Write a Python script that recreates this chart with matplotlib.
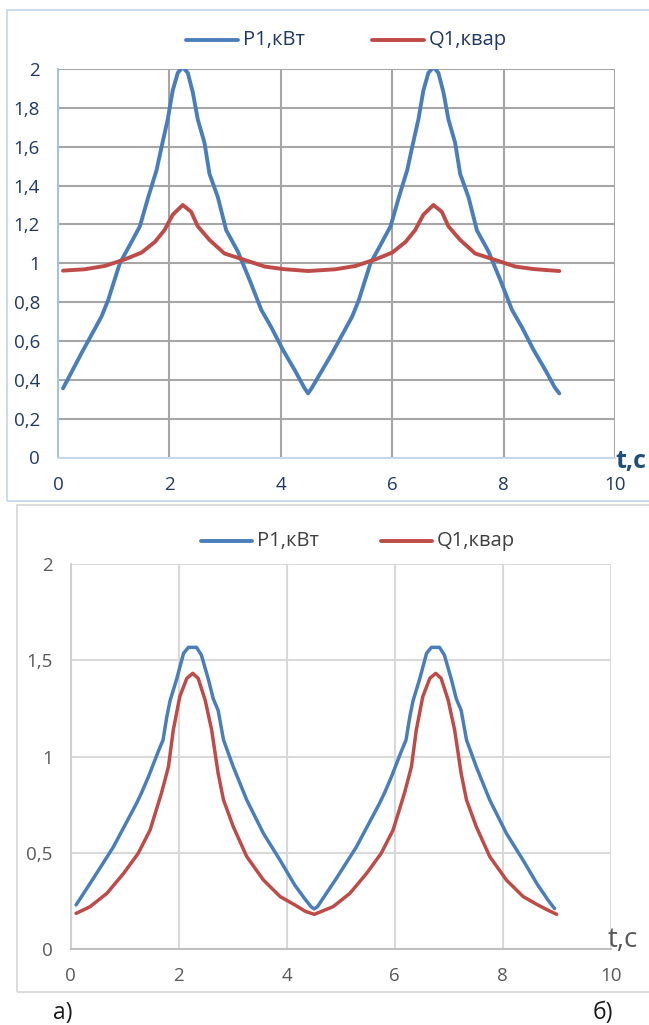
import matplotlib
matplotlib.use("Agg")
import matplotlib.pyplot as plt
from matplotlib.lines import Line2D
from matplotlib.patches import Rectangle

plt.rcParams['font.family'] = ['Open Sans', 'DejaVu Sans']

# ---------------- data: chart a) ----------------
ta_p = [0.09, 0.42, 0.78, 0.90, 1.11, 1.29, 1.47, 1.62, 1.77, 1.86, 1.97, 2.06, 2.15,
        2.24, 2.33, 2.42, 2.51, 2.63, 2.72, 2.87, 3.02, 3.23, 3.44, 3.65, 3.83, 4.04,
        4.25, 4.42, 4.49, 4.56,
        4.92, 5.28, 5.40, 5.61, 5.79, 5.97, 6.12, 6.27, 6.36, 6.47, 6.56, 6.65, 6.74,
        6.83, 6.92, 7.01, 7.13, 7.22, 7.37, 7.52, 7.73, 7.94, 8.15, 8.33, 8.54, 8.75,
        8.92, 9.00]
pa = [0.356, 0.536, 0.725, 0.81, 1.00, 1.094, 1.19, 1.34, 1.48, 1.60, 1.74, 1.89, 1.98,
      2.01, 1.98, 1.88, 1.74, 1.62, 1.46, 1.34, 1.17, 1.06, 0.914, 0.76, 0.67, 0.553,
      0.45, 0.36, 0.33, 0.36,
      0.536, 0.725, 0.81, 1.00, 1.094, 1.19, 1.34, 1.48, 1.60, 1.74, 1.89, 1.98, 2.01,
      1.98, 1.88, 1.74, 1.62, 1.46, 1.34, 1.17, 1.06, 0.914, 0.76, 0.67, 0.553, 0.45,
      0.36, 0.33]

ta_q = [0.09, 0.48, 0.84, 1.20, 1.50, 1.74, 1.91, 2.06, 2.24, 2.39, 2.51, 2.72, 2.99,
        3.35, 3.71, 4.04, 4.49,
        4.98, 5.34, 5.70, 6.00, 6.24, 6.41, 6.56, 6.74, 6.89, 7.01, 7.22, 7.49, 7.85,
        8.21, 8.54, 9.00]
qa = [0.962, 0.969, 0.986, 1.02, 1.055, 1.11, 1.17, 1.25, 1.30, 1.265, 1.19, 1.12, 1.05,
      1.017, 0.983, 0.97, 0.96,
      0.969, 0.986, 1.02, 1.055, 1.11, 1.17, 1.25, 1.30, 1.265, 1.19, 1.12, 1.05, 1.017,
      0.983, 0.97, 0.96]

# ---------------- data: chart б) ----------------
tb_p = [0.10, 0.42, 0.79, 1.22, 1.31, 1.44, 1.62, 1.71, 1.78, 1.84, 1.96, 2.09, 2.18,
        2.33, 2.42, 2.55, 2.64, 2.73, 2.83, 3.01, 3.26, 3.57, 3.88, 4.15, 4.35, 4.45,
        4.51, 4.57,
        4.92, 5.29, 5.72, 5.81, 5.94, 6.12, 6.21, 6.28, 6.34, 6.46, 6.59, 6.68, 6.83,
        6.92, 7.05, 7.14, 7.23, 7.33, 7.51, 7.76, 8.07, 8.38, 8.65, 8.85, 8.96]
pb = [0.229, 0.367, 0.53, 0.757, 0.81, 0.895, 1.025, 1.086, 1.207, 1.29, 1.40, 1.536, 1.567,
      1.567, 1.527, 1.40, 1.30, 1.24, 1.086, 0.947, 0.774, 0.60, 0.46, 0.332, 0.255, 0.22,
      0.208, 0.22,
      0.367, 0.53, 0.757, 0.81, 0.895, 1.025, 1.086, 1.207, 1.29, 1.40, 1.536, 1.567, 1.567,
      1.527, 1.40, 1.30, 1.24, 1.086, 0.947, 0.774, 0.60, 0.46, 0.332, 0.25, 0.21]

tb_q = [0.10, 0.36, 0.67, 0.98, 1.25, 1.47, 1.68, 1.81, 1.90, 2.02, 2.15, 2.26, 2.36,
        2.49, 2.61, 2.73, 2.83, 3.01, 3.26, 3.57, 3.88, 4.15, 4.35, 4.51,
        4.86, 5.17, 5.48, 5.75, 5.97, 6.18, 6.31, 6.40, 6.52, 6.65, 6.76, 6.86, 6.99,
        7.11, 7.23, 7.33, 7.51, 7.76, 8.07, 8.38, 8.65, 8.85, 9.00]
qb = [0.185, 0.22, 0.289, 0.393, 0.497, 0.618, 0.809, 0.947, 1.138, 1.311, 1.406, 1.432, 1.406,
      1.293, 1.138, 0.913, 0.774, 0.636, 0.48, 0.358, 0.272, 0.229, 0.195, 0.18,
      0.22, 0.289, 0.393, 0.497, 0.618, 0.809, 0.947, 1.138, 1.311, 1.406, 1.432, 1.406, 1.293,
      1.138, 0.913, 0.774, 0.636, 0.48, 0.358, 0.272, 0.229, 0.20, 0.18]

x_ticks = [0, 2, 4, 6, 8, 10]
ya_ticks = [0, 0.2, 0.4, 0.6, 0.8, 1, 1.2, 1.4, 1.6, 1.8, 2]
ya_labels = ['0', '0,2', '0,4', '0,6', '0,8', '1', '1,2', '1,4', '1,6', '1,8', '2']
yb_ticks = [0, 0.5, 1, 1.5, 2]
yb_labels = ['0', '0,5', '1', '1,5', '2']
series_names = ['Р1,кВт', 'Q1,квар']

BLUE = '#4A7EBB'
RED = '#BE4B48'

W, H = 649, 1025
fig = plt.figure(figsize=(W / 100, H / 100), dpi=100)


def rect(x0, y0, x1, y1):
    return [x0 / W, 1 - y1 / H, (x1 - x0) / W, (y1 - y0) / H]


def fx(x):
    return x / W


def fy(y):
    return 1 - y / H


# outer frames
fig.add_artist(Rectangle((fx(7), fy(500.5)), fx(700) - fx(7), fy(10) - fy(500.5),
                         transform=fig.transFigure, fill=False, ec='#C5D9EF', lw=1.3))
fig.add_artist(Rectangle((fx(17), fy(992)), fx(700) - fx(17), fy(505) - fy(992),
                         transform=fig.transFigure, fill=False, ec='#D9D9D9', lw=1.3))

LINE_KW = dict(solid_joinstyle='round', solid_capstyle='round')

# ---------------- chart a) ----------------
axa = fig.add_axes(rect(58, 69, 615, 457.5))
axa.plot(ta_p, pa, color=BLUE, lw=2.8, **LINE_KW)
axa.plot(ta_q, qa, color=RED, lw=2.8, **LINE_KW)
axa.set_xlim(0, 10)
axa.set_ylim(0, 2)
axa.set_xticks(x_ticks)
axa.set_xticklabels([str(v) for v in x_ticks])
axa.set_yticks(ya_ticks)
axa.set_yticklabels(ya_labels)
axa.grid(True, color='#A6A6A6', lw=1.5)
axa.set_axisbelow(True)
for s in ['top', 'right']:
    axa.spines[s].set_visible(False)
axa.spines['left'].set_color('#9DC3E6')
axa.spines['bottom'].set_color('#C5D9EF')
axa.spines['left'].set_linewidth(1.4)
axa.spines['bottom'].set_linewidth(1.4)
axa.tick_params(length=0, labelsize=13.5, labelcolor='#1F3864')
axa.tick_params(axis='y', pad=13)
axa.tick_params(axis='x', pad=13)
axa.text(1.0, -0.01, 't,c', transform=axa.transAxes, ha='left', va='center',
         fontsize=18, fontweight='bold', color='#1F4E79')

# ---------------- chart б) ----------------
axb = fig.add_axes(rect(70.7, 564, 610.7, 949))
axb.plot(tb_p, pb, color=BLUE, lw=2.5, **LINE_KW)
axb.plot(tb_q, qb, color=RED, lw=2.5, **LINE_KW)
axb.set_xlim(0, 10)
axb.set_ylim(0, 2)
axb.set_xticks(x_ticks)
axb.set_xticklabels([str(v) for v in x_ticks])
axb.set_yticks(yb_ticks)
axb.set_yticklabels(yb_labels)
axb.grid(True, color='#D9D9D9', lw=1.5)
axb.set_axisbelow(True)
for s in ['top', 'right']:
    axb.spines[s].set_visible(False)
axb.spines['left'].set_color('#D0D0D0')
axb.spines['bottom'].set_color('#BFBFBF')
axb.spines['left'].set_linewidth(1.4)
axb.spines['bottom'].set_linewidth(1.4)
axb.tick_params(length=0, labelsize=13.5, labelcolor='#595959')
axb.tick_params(axis='y', pad=13)
axb.tick_params(axis='x', pad=13)
axb.text(0.995, 0.005, 't,c', transform=axb.transAxes, ha='left', va='baseline',
         fontsize=20, color='#595959')


# ---------------- legends (manual) ----------------
def legend_entry(x0, x1, y, color, label, tcolor):
    fig.add_artist(Line2D([fx(x0), fx(x1)], [fy(y), fy(y)], transform=fig.transFigure,
                          color=color, lw=2.8, solid_capstyle='round'))
    fig.text(fx(x1 + 5), fy(y), label, ha='left', va='center', fontsize=14.5,
             color=tcolor)


legend_entry(186, 238, 40, BLUE, series_names[0], '#1F3864')
legend_entry(372, 424, 40, RED, series_names[1], '#1F3864')
legend_entry(201, 252, 541, BLUE, series_names[0], '#404040')
legend_entry(381, 432, 541, RED, series_names[1], '#404040')

fig.text(fx(63), fy(1013), 'а)', ha='center', va='center', fontsize=16.5, color='#1A1A1A')
fig.text(fx(603), fy(1013), 'б)', ha='center', va='center', fontsize=16.5, color='#1A1A1A')

fig.savefig('out.png', dpi=100)
